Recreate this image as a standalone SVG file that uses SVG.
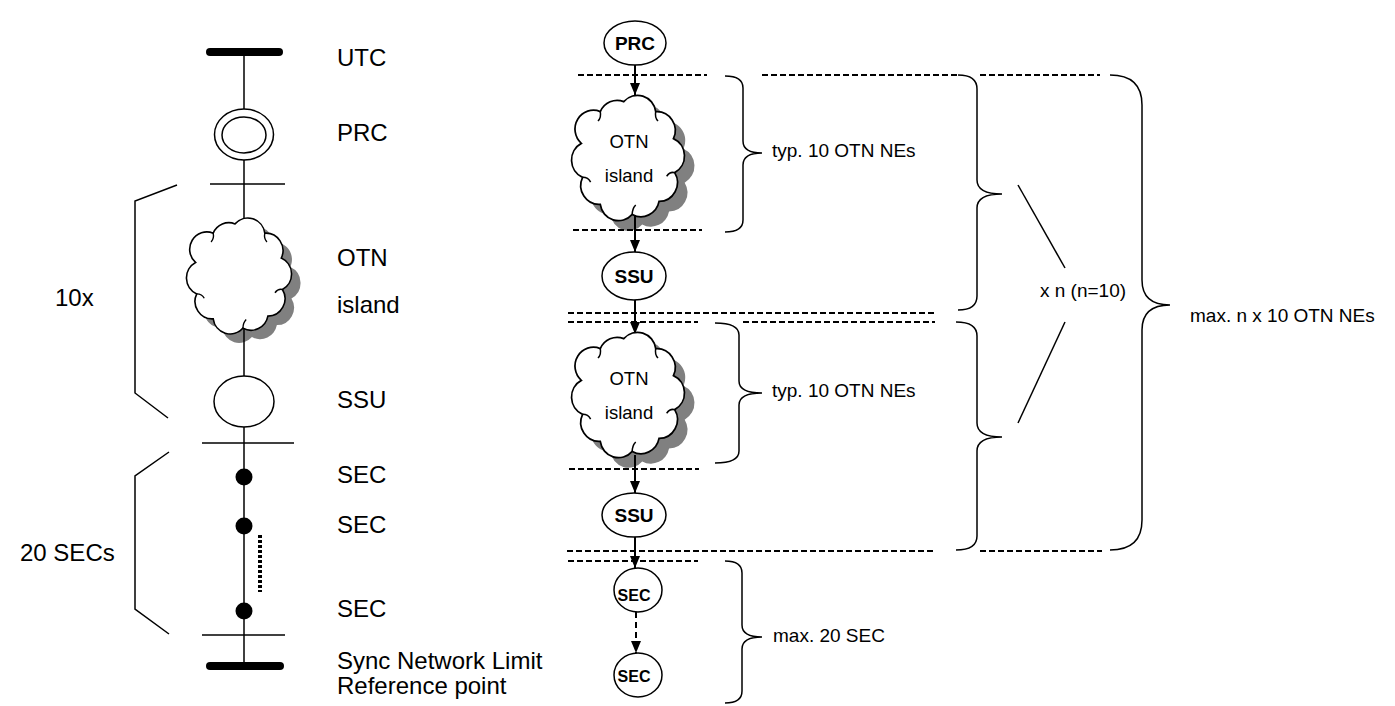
<svg xmlns="http://www.w3.org/2000/svg" width="1395" height="706" viewBox="0 0 1395 706">
<style>
 .ln{stroke:#000;stroke-width:1.5;fill:none}
 .arr{stroke:#000;stroke-width:2;fill:none}
 .bar{stroke:#000;stroke-width:8;stroke-linecap:round}
 .dash{stroke:#000;stroke-width:2;stroke-dasharray:6 3;fill:none}
 .node{fill:#fff;stroke:#000;stroke-width:1.5}
 .fold{fill:none;stroke:#000;stroke-width:1.3}
 .shadow{fill:#808080}
 .lbl{font-family:"Liberation Sans",Arial,sans-serif;font-size:24px;fill:#000}
 .sm{font-family:"Liberation Sans",Arial,sans-serif;font-size:19px;fill:#000}
 .ct{font-family:"Liberation Sans",Arial,sans-serif;font-size:18.5px;fill:#000;text-anchor:middle}
 .nb{font-family:"Liberation Sans",Arial,sans-serif;font-weight:bold;fill:#000;text-anchor:middle}
 .brace{fill:none;stroke:#000;stroke-width:1.5}
</style>
<defs>
 <path id="cloud" d="M-3.7,-47.8 A16,16 0 0 1 24.1,-39.3 A16,16 0 0 1 39.5,-16.4 A16,16 0 0 1 40.6,12.4 A16,16 0 0 1 27,36.8 A16,16 0 0 1 3.7,47.8 A16,16 0 0 1 -24.1,39.3 A16,16 0 0 1 -39.5,16.4 A16,16 0 0 1 -40.6,-12.4 A16,16 0 0 1 -24.1,-39.3 A16,16 0 0 1 -3.7,-47.8 Z"/>
 <g id="folds">
  <path class="fold" d="M40.6,12.4 q-4,-1 -7,3"/>
  <path class="fold" d="M-39.5,16.4 q5,0 7,4"/>
  <path class="fold" d="M3.7,47.8 q0,-5 3,-8"/>
  <path class="fold" d="M-24.1,-39.3 q1,5 -2,8"/>
  <path class="fold" d="M24.1,-39.3 q-1,5 2,8"/>
 </g>
 <marker id="ah" markerWidth="12" markerHeight="10" refX="12" refY="5" orient="auto" markerUnits="userSpaceOnUse"><path d="M0,0 L12,5 L0,10 Z" fill="#000"/></marker>
</defs>
<rect width="1395" height="706" fill="#fff"/>

<g id="shadows">
 <use href="#cloud" class="shadow" transform="translate(248,285) scale(1.07,1.09)"/>
 <use href="#cloud" class="shadow" transform="translate(638,168) scale(1.15,1.18)"/>
 <use href="#cloud" class="shadow" transform="translate(638,405) scale(1.15,1.18)"/>
</g>

<g id="guides">
 <line class="dash" x1="578" y1="75" x2="707" y2="75"/>
 <line class="dash" x1="762" y1="75" x2="957" y2="75"/>
 <line class="dash" x1="980" y1="75" x2="1100" y2="75"/>
 <line class="dash" x1="573" y1="230" x2="702" y2="230"/>
 <line class="dash" x1="568" y1="313" x2="937" y2="313"/>
 <line class="dash" x1="568" y1="322" x2="698" y2="322"/>
 <line class="dash" x1="743" y1="322" x2="935" y2="322"/>
 <line class="dash" x1="569" y1="469" x2="699" y2="469"/>
 <line class="dash" x1="567" y1="551" x2="935" y2="551"/>
 <line class="dash" x1="980" y1="551" x2="1102" y2="551"/>
 <line class="dash" x1="568" y1="561" x2="698" y2="561"/>
</g>

<g id="connectors">
 <line class="ln" x1="244" y1="52" x2="244" y2="666"/>
 <line class="ln" x1="210" y1="184" x2="285" y2="184"/>
 <line class="ln" x1="202" y1="443" x2="294" y2="443"/>
 <line class="ln" x1="202" y1="635" x2="285" y2="635"/>
 <line x1="260" y1="535" x2="260" y2="592" stroke="#000" stroke-width="4" stroke-dasharray="3 2"/>
 <line class="arr" x1="635" y1="65" x2="635" y2="95" marker-end="url(#ah)"/>
 <line class="arr" x1="635" y1="215" x2="635" y2="252" marker-end="url(#ah)"/>
 <line class="arr" x1="635" y1="300" x2="635" y2="334" marker-end="url(#ah)"/>
 <line class="arr" x1="635" y1="455" x2="635" y2="493" marker-end="url(#ah)"/>
 <line class="arr" x1="635" y1="537" x2="635" y2="568" marker-end="url(#ah)"/>
 <line class="arr" x1="636" y1="612" x2="636" y2="653" stroke-dasharray="6 4" marker-end="url(#ah)"/>
</g>

<g id="utc">
 <line class="bar" x1="210" y1="52" x2="279" y2="52"/>
 <text class="lbl" x="337" y="66">UTC</text>
</g>
<g id="prc-left">
 <ellipse class="node" cx="244" cy="134.5" rx="29.5" ry="25.5"/>
 <ellipse class="node" cx="244" cy="135" rx="22" ry="18"/>
 <text class="lbl" x="337" y="141">PRC</text>
</g>
<g id="otn-left">
 <use href="#cloud" class="node" transform="translate(239,276) scale(1.07,1.09)"/>
 <use href="#folds" transform="translate(239,276) scale(1.07,1.09)"/>
 <text class="lbl" x="337" y="266">OTN</text>
 <text class="lbl" x="337" y="313">island</text>
</g>
<g id="ssu-left">
 <ellipse class="node" cx="244" cy="401.5" rx="30" ry="25.5"/>
 <text class="lbl" x="337" y="408">SSU</text>
</g>
<g id="sec-left-1">
 <circle cx="244" cy="477" r="8.5" fill="#000"/>
 <text class="lbl" x="337" y="483">SEC</text>
</g>
<g id="sec-left-2">
 <circle cx="244" cy="526" r="8.5" fill="#000"/>
 <text class="lbl" x="337" y="533">SEC</text>
</g>
<g id="sec-left-3">
 <circle cx="244" cy="611" r="8.5" fill="#000"/>
 <text class="lbl" x="337" y="617">SEC</text>
</g>
<g id="limit">
 <line class="bar" x1="210" y1="666" x2="280" y2="666"/>
 <text class="lbl" x="337" y="669">Sync Network Limit</text>
 <text class="lbl" x="337" y="694">Reference point</text>
</g>
<g id="bracket-10x">
 <polyline class="ln" points="177,185 135,201 135,393 168,418"/>
 <text class="lbl" x="55" y="306">10x</text>
</g>
<g id="bracket-20">
 <polyline class="ln" points="169,452 135,476 135,609 169,634"/>
 <text class="lbl" x="20" y="561">20 SECs</text>
</g>

<g id="prc-right">
 <ellipse class="node" cx="635" cy="43" rx="31" ry="22"/>
 <text class="nb" x="635" y="50" font-size="19">PRC</text>
</g>
<g id="otn-right-1">
 <use href="#cloud" class="node" transform="translate(628,158) scale(1.15,1.18)"/>
 <use href="#folds" transform="translate(628,158) scale(1.15,1.18)"/>
 <text class="ct" x="629" y="148">OTN</text>
 <text class="ct" x="629" y="182">island</text>
</g>
<g id="ssu-right-1">
 <ellipse class="node" cx="634" cy="276" rx="32" ry="24"/>
 <text class="nb" x="634" y="283" font-size="19">SSU</text>
</g>
<g id="otn-right-2">
 <use href="#cloud" class="node" transform="translate(628,395) scale(1.15,1.18)"/>
 <use href="#folds" transform="translate(628,395) scale(1.15,1.18)"/>
 <text class="ct" x="629" y="385">OTN</text>
 <text class="ct" x="629" y="419">island</text>
</g>
<g id="ssu-right-2">
 <ellipse class="node" cx="634" cy="515" rx="32" ry="22"/>
 <text class="nb" x="634" y="522" font-size="19">SSU</text>
</g>
<g id="sec-right-1">
 <ellipse class="node" cx="638" cy="590" rx="24" ry="22"/>
 <text class="nb" x="634" y="601" font-size="16">SEC</text>
</g>
<g id="sec-right-2">
 <ellipse class="node" cx="638" cy="675" rx="24" ry="22"/>
 <text class="nb" x="634" y="682" font-size="16">SEC</text>
</g>

<g id="braces">
 <path class="brace" d="M725,76 Q743,76 743,88 L743,141 Q743,153 762,153 Q743,153 743,165 L743,220 Q743,232 725,232"/>
 <text class="sm" x="772" y="157">typ. 10 OTN NEs</text>
 <path class="brace" d="M715,323 Q739,323 739,335 L739,381 Q739,393 762,393 Q739,393 739,405 L739,451 Q739,463 715,463"/>
 <text class="sm" x="772" y="397">typ. 10 OTN NEs</text>
 <path class="brace" d="M958,75 Q977,75 977,89 L977,180 Q977,194 1002,194 Q977,194 977,208 L977,296 Q977,310 958,310"/>
 <path class="brace" d="M956,322 Q977,322 977,336 L977,423 Q977,437 1002,437 Q977,437 977,451 L977,536 Q977,550 956,550"/>
 <line class="ln" x1="1018" y1="185" x2="1065" y2="268"/>
 <line class="ln" x1="1065" y1="322" x2="1018" y2="423"/>
 <text class="sm" x="1040" y="297">x n (n=10)</text>
 <path class="brace" d="M1110,75 Q1142,75 1142,105 L1142,280 Q1142,305 1170,305 Q1142,305 1142,330 L1142,520 Q1142,550 1110,550"/>
 <text class="sm" x="1190" y="322">max. n x 10 OTN NEs</text>
 <path class="brace" d="M725,561 Q742,561 742,573 L742,625 Q742,637 762,637 Q742,637 742,649 L742,691 Q742,703 725,703"/>
 <text class="sm" x="773" y="642">max. 20 SEC</text>
</g>
</svg>
